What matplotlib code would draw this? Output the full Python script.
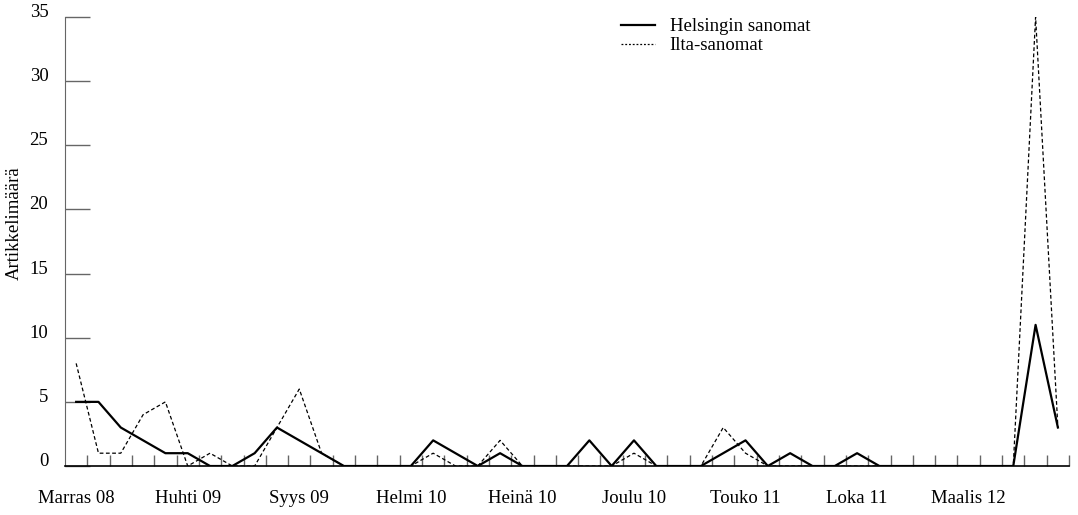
import numpy as np
import matplotlib.pyplot as plt
from matplotlib.lines import Line2D

plt.rcParams['font.family'] = ['Liberation Serif', 'DejaVu Serif']

# monthly article counts, Marras 08 .. Heinä 12
helsingin = [5, 5, 3, 2, 1, 1, 0, 0, 1, 3, 2, 1, 0, 0, 0,
             0, 2, 1, 0, 1, 0, 0, 0, 2, 0, 2, 0, 0, 0, 1,
             2, 0, 1, 0, 0, 1, 0, 0, 0, 0, 0, 0, 0, 11, 3]
ilta = [8, 1, 1, 4, 5, 0, 1, 0, 0, 3, 6, 1, 0, 0, 0,
        0, 1, 0, 0, 2, 0, 0, 0, 0, 0, 1, 0, 0, 0, 3,
        1, 0, 0, 0, 0, 0, 0, 0, 0, 0, 0, 0, 0, 35, 3]
month_labels = ['Marras 08', 'Huhti 09', 'Syys 09', 'Helmi 10', 'Heinä 10',
                'Joulu 10', 'Touko 11', 'Loka 11', 'Maalis 12']

x = np.arange(len(helsingin))
fs = 13.5

fig = plt.figure(figsize=(10.78, 5.15), dpi=100)
ax = fig.add_axes([0.0603, 0.0951, 0.9314, 0.872])

ax.plot(x, ilta, color='black', lw=0.9, linestyle=(0, (3, 2)))
ax.plot(x, helsingin, color='black', lw=1.6)

ax.set_xlim(-0.5, len(x) - 0.5)
ax.set_ylim(0, 35)

for s in ['top', 'right']:
    ax.spines[s].set_visible(False)
ax.spines['left'].set_color('#666666')
ax.spines['bottom'].set_color('black')
ax.spines['bottom'].set_linewidth(1.2)

ax.set_yticks(np.arange(0, 36, 5))
ax.tick_params(axis='y', direction='in', length=18, width=1, color='#666666',
               labelsize=fs, pad=12)
for lab in ax.get_yticklabels():
    lab.set_verticalalignment('baseline')

ax.set_xticks(np.arange(0, len(x), 5)[:len(month_labels)])
ax.set_xticklabels(month_labels)
ax.tick_params(axis='x', which='major', length=0, labelsize=fs, pad=17)
ax.set_xticks(np.arange(0.5, len(x), 1), minor=True)
ax.tick_params(axis='x', which='minor', direction='in', length=8, width=1,
               color='#666666')

ax.set_ylabel('Artikkelimäärä', fontsize=fs)
ax.yaxis.set_label_coords(-0.042, 0.54)

handles = [Line2D([], [], color='black', lw=1.6),
           Line2D([], [], color='black', lw=0.9, linestyle=(0, (1.5, 1.5)))]
ax.legend(handles, ['Helsingin sanomat', 'Ilta-sanomat'], loc='upper left',
          bbox_to_anchor=(0.537, 1.035), frameon=False, fontsize=fs,
          handlelength=1.8, handletextpad=0.8, labelspacing=0.1)

fig.savefig('out.png', dpi=100)
